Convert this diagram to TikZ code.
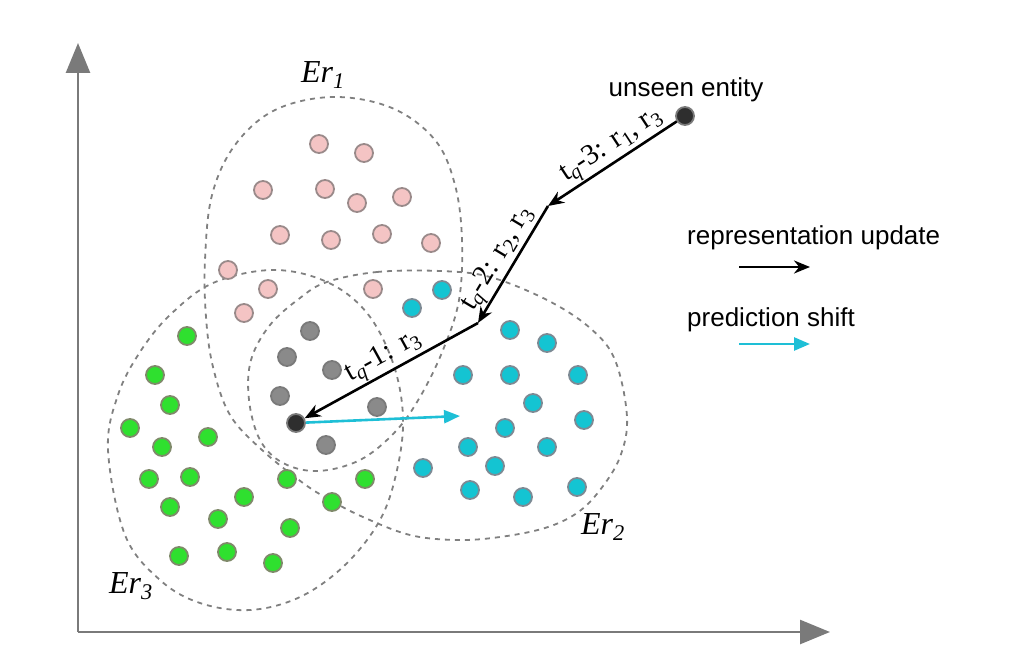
\documentclass[tikz,border=0pt]{standalone}
\usepackage{fontspec}
\setmainfont{Liberation Serif}
\setsansfont{Liberation Sans}
\usetikzlibrary{arrows.meta}
\definecolor{axisc}{HTML}{7A7A7A}
\definecolor{dashc}{HTML}{808080}
\definecolor{pinkf}{HTML}{F4C4C4}
\definecolor{pinkb}{HTML}{9A8A8A}
\definecolor{cyanf}{HTML}{14C4D2}
\definecolor{cyanb}{HTML}{7D8A94}
\definecolor{greenf}{HTML}{2FE02F}
\definecolor{greenb}{HTML}{7F8A6A}
\definecolor{grayf}{HTML}{8A8A8A}
\definecolor{grayb}{HTML}{7A7A7A}
\definecolor{darkf}{HTML}{2E2E2E}
\definecolor{shiftc}{HTML}{1EBFD6}
\tikzset{
  dot/.style={circle, inner sep=0pt, minimum size=18pt, line width=1.8pt},
  pinkdot/.style={dot, fill=pinkf, draw=pinkb},
  cyandot/.style={dot, fill=cyanf, draw=cyanb},
  greendot/.style={dot, fill=greenf, draw=greenb},
  graydot/.style={dot, fill=grayf, draw=grayb},
  darkdot/.style={dot, fill=darkf, draw=grayb},
  region/.style={draw=dashc, line width=1.8pt, dash pattern=on 5pt off 5pt},
  axisline/.style={draw=axisc, line width=2.6pt, -{Triangle[length=30pt,width=24pt]}},
  update/.style={draw=black, line width=2.6pt, -{Stealth[length=16pt,width=13pt]}},
  shiftarrow/.style={draw=shiftc, line width=2.6pt, -{Triangle[length=16pt,width=13pt]}},
  legendtext/.style={font=\sffamily\fontsize{26}{30}\selectfont, inner sep=0pt},
  steplabel/.style={font=\fontsize{29}{32}\selectfont, inner sep=1pt},
  setlabel/.style={font=\itshape\fontsize{32}{36}\selectfont, inner sep=0pt}
}
\begin{document}
\begin{tikzpicture}[x=1pt,y=-1pt]
\useasboundingbox (0,0) rectangle (1032,668);
% axes
\coordinate (O) at (78,632);
\coordinate (Ytip) at (78,43);
\coordinate (Xtip) at (830,632);
\draw[axisline] (O) -- (Ytip);
\draw[axisline] (O) -- (Xtip);
% regions: Er1 / Er2 outline (one freeform dashed outline)
\draw[region] plot[smooth cycle, tension=0.6] coordinates {
  (327,282) (377,272) (440,271) (490,277) (547,300) (590,328) (615,360)
  (627,417) (620,457) (600,490) (577,513) (545,528) (500,537) (457,540)
  (410,535) (363,517) (330,500) (303,483) (262,450) (230,415) (213,367)
  (206,317) (205,260) (212,195) (235,145) (275,110) (333,97) (392,108)
  (435,140) (455,185) (462,240) (459,300) (443,350) (420,397) (395,432)
  (360,460) (318,471) (283,463) (260,440) (249,400) (251,360) (270,325)
  (300,298)};
% Er3
\draw[region] plot[smooth cycle, tension=0.6] coordinates {
  (108,450) (118,395) (140,352) (170,315) (213,283) (273,270) (327,282)
  (367,313) (393,363) (403,417) (397,470) (380,520) (345,565) (300,597)
  (250,610) (200,603) (160,580) (125,535)};
% pink dots
\foreach \i/\x/\y in {1/319/144, 2/364/153, 3/263/190, 4/325/189, 5/357/203, 6/402/197,
  7/280/235, 8/331/240, 9/382/234, 10/431/243, 11/228/270, 12/268/289, 13/373/289, 14/244/313}
  \node[pinkdot] (pk\i) at (\x,\y) {};
% cyan dots
\foreach \i/\x/\y in {1/412/308, 2/442/290, 3/510/330, 4/547/343, 5/463/375, 6/510/375,
  7/578/375, 8/533/403, 9/584/420, 10/505/428, 11/468/447, 12/547/447, 13/495/466,
  14/423/468, 15/470/490, 16/523/497, 17/577/487}
  \node[cyandot] (cy\i) at (\x,\y) {};
% green dots
\foreach \i/\x/\y in {1/187/336, 2/155/375, 3/170/405, 4/130/428, 5/162/447, 6/208/437,
  7/149/479, 8/190/477, 9/287/479, 10/365/479, 11/244/497, 12/170/507, 13/332/502,
  14/218/519, 15/290/528, 16/179/556, 17/227/552, 18/273/563}
  \node[greendot] (gr\i) at (\x,\y) {};
% gray dots
\foreach \i/\x/\y in {1/310/331, 2/287/357, 3/332/370, 4/280/396, 5/377/407, 6/326/445}
  \node[graydot] (gy\i) at (\x,\y) {};
% entity dots
\node[darkdot] (start) at (296,423) {};
\node[darkdot] (unseen) at (685,116) {};
\node[legendtext] (unseenlabel) at (686,90) {unseen entity};
% representation update path
\coordinate (c1) at (548,206);
\coordinate (c2) at (478,323);
\draw[update] (unseen) -- (c1) node[pos=0.44, sloped, above, steplabel] {t\textsubscript{\textit{q}}-3: r\textsubscript{1}, r\textsubscript{3}};
\draw[update] (c1) -- (c2) node[pos=0.52, sloped, above, steplabel] {t\textsubscript{\textit{q}}-2: r\textsubscript{2}, r\textsubscript{3}};
\draw[update] (c2) -- (start) node[pos=0.5, sloped, above, steplabel] {t\textsubscript{\textit{q}}-1: r\textsubscript{3}};
% prediction shift
\coordinate (shiftend) at (460,416);
\draw[shiftarrow] (start) -- (shiftend);
% set labels
\node[setlabel] (er1) at (323,75) {Er\textsubscript{1}};
\node[setlabel] (er2) at (603,527) {Er\textsubscript{2}};
\node[setlabel] (er3) at (131,586) {Er\textsubscript{3}};
% legend
\node[legendtext, anchor=west] (lg1) at (687,238) {representation update};
\coordinate (lg1a) at (739,267);
\coordinate (lg1b) at (810,267);
\draw[update] (lg1a) -- (lg1b);
\node[legendtext, anchor=west] (lg2) at (687,320) {prediction shift};
\coordinate (lg2a) at (739,344);
\coordinate (lg2b) at (810,344);
\draw[shiftarrow] (lg2a) -- (lg2b);
\end{tikzpicture}
\end{document}
